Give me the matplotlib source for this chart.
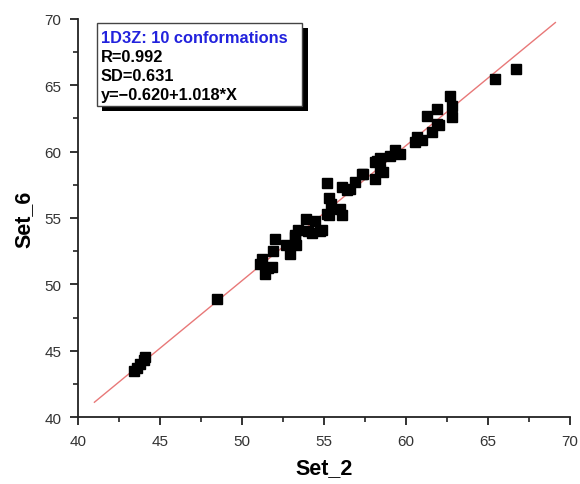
import matplotlib.pyplot as plt
from matplotlib.patches import Rectangle
from matplotlib.ticker import MultipleLocator

plt.rcParams['font.family'] = ['Liberation Sans', 'DejaVu Sans']

# Set_2 vs Set_6 chemical shifts
set_2 = [43.4, 43.6, 43.8, 44.0, 44.1, 48.5,
         51.1, 51.2, 51.4, 51.6, 51.8, 51.9, 52.0, 52.7, 52.9, 53.2,
         53.3, 53.4, 53.2, 53.9, 54.05, 54.25, 54.45, 54.75, 54.85,
         55.2, 55.3, 55.4, 55.3, 55.2, 56.0, 56.1, 56.1, 56.4, 56.6,
         56.9, 57.3, 57.4, 58.1, 58.1, 58.2, 58.4, 58.4, 58.6, 59.0,
         59.3, 59.6, 60.55, 60.65, 60.95, 61.6, 61.3, 61.9, 61.9, 62.0,
         62.7, 62.8, 62.8, 65.4, 66.7]
set_6 = [43.5, 43.7, 44.0, 44.3, 44.5, 48.9,
         51.5, 51.9, 50.8, 51.2, 51.3, 52.5, 53.4, 53.0, 52.3, 53.55,
         53.0, 54.1, 53.7, 54.9, 54.05, 53.9, 54.8, 54.05, 54.1,
         57.6, 56.5, 56.05, 55.2, 55.3, 55.7, 55.2, 57.3, 57.1, 57.2,
         57.7, 58.3, 58.3, 57.9, 59.2, 59.3, 58.7, 59.5, 58.5, 59.7,
         60.1, 59.8, 60.7, 61.1, 60.9, 61.45, 62.7, 63.2, 62.1, 62.0,
         64.2, 63.4, 62.6, 65.5, 66.2]

fit_a = -0.620
fit_b = 1.018
fit_x = [41.0, 69.1]
fit_y = [fit_a + fit_b * v for v in fit_x]

box_lines = ['1D3Z: 10 conformations', 'R=0.992', 'SD=0.631', 'y=\u22120.620+1.018*X']

fig = plt.figure(figsize=(5.8, 4.85), dpi=100)
ax = fig.add_axes([0.1345, 0.138, 0.8485, 0.821])

ax.plot(fit_x, fit_y, color='#e87878', lw=1.0, zorder=2)
ax.plot(set_2, set_6, 's', color='black', ms=7, zorder=3)

ax.set_xlim(40, 70)
ax.set_ylim(40, 70)
ax.xaxis.set_major_locator(MultipleLocator(5))
ax.yaxis.set_major_locator(MultipleLocator(5))
ax.xaxis.set_minor_locator(MultipleLocator(2.5))
ax.yaxis.set_minor_locator(MultipleLocator(2.5))
ax.spines['top'].set_visible(False)
ax.spines['right'].set_visible(False)
for s in ['left', 'bottom']:
    ax.spines[s].set_linewidth(1.3)
    ax.spines[s].set_color('#222222')
ax.tick_params(which='major', direction='out', length=6, width=1.3,
               labelsize=11, labelcolor='#333333', color='#222222', pad=6)
ax.tick_params(which='minor', direction='out', length=3.5, width=1.2, color='#222222')

ax.set_xlabel('Set_2', fontsize=15.5, fontweight='bold', labelpad=7)
ax.set_ylabel('Set_6', fontsize=15.5, fontweight='bold', labelpad=7)

# legend box with drop shadow
bx0, by0, bw, bh = 0.038, 0.782, 0.418, 0.207
sh = Rectangle((bx0 + 0.011, by0 - 0.013), bw, bh, transform=ax.transAxes,
               facecolor='black', edgecolor='none', zorder=4, clip_on=False)
bx = Rectangle((bx0, by0), bw, bh, transform=ax.transAxes,
               facecolor='white', edgecolor='#444444', lw=1.0, zorder=5, clip_on=False)
ax.add_patch(sh)
ax.add_patch(bx)
for i, t in enumerate(box_lines):
    ax.text(bx0 + 0.008, by0 + bh - 0.035 - i * 0.048, t, transform=ax.transAxes,
            fontsize=11.8, fontweight='bold', va='center', ha='left',
            color='#2222dd' if i == 0 else 'black', zorder=6)

fig.savefig('out.png', dpi=100)
